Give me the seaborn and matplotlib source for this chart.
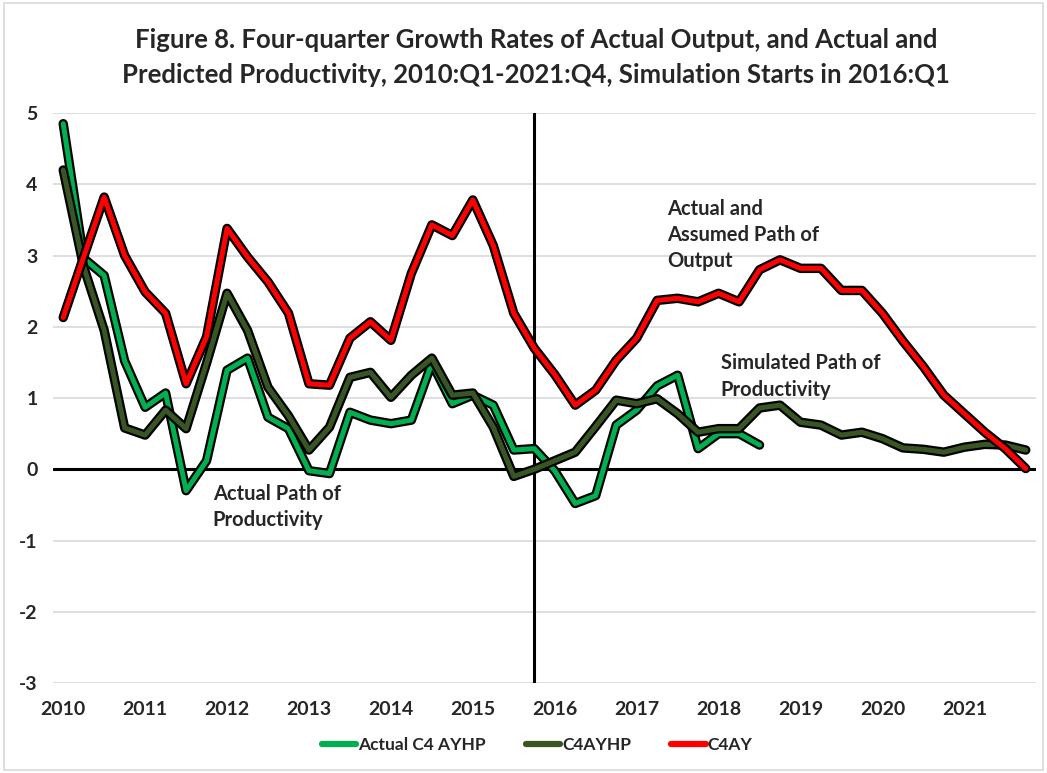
import numpy as np
import pandas as pd
import matplotlib
matplotlib.use("Agg")
import matplotlib.pyplot as plt
import matplotlib.patheffects as pe
from matplotlib.lines import Line2D
import seaborn as sns

# 四季度增长率, 2010:Q1 - 2021:Q4
years = list(range(2010, 2022))
actual_c4ayhp = [4.85, 2.96, 2.72, 1.52, 0.87, 1.07, -0.3, 0.12, 1.39, 1.56,
                 0.73, 0.57, -0.02, -0.06, 0.8, 0.69, 0.64, 0.69, 1.49, 0.92,
                 1.04, 0.9, 0.27, 0.29, -0.02, -0.48, -0.37, 0.62, 0.83, 1.17,
                 1.32, 0.29, 0.5, 0.5, 0.34]
c4ayhp = [4.2, 2.84, 1.95, 0.58, 0.48, 0.83, 0.57, 1.49, 2.47, 1.95,
          1.15, 0.75, 0.27, 0.59, 1.29, 1.36, 1.01, 1.32, 1.56, 1.04,
          1.07, 0.59, -0.1, 0.0, 0.12, 0.24, 0.6, 0.97, 0.92, 0.99,
          0.78, 0.52, 0.57, 0.57, 0.86, 0.9, 0.66, 0.62, 0.48, 0.52,
          0.43, 0.3, 0.28, 0.24, 0.31, 0.35, 0.34, 0.27]
c4ay = [2.13, 2.98, 3.82, 3.0, 2.49, 2.19, 1.2, 1.86, 3.38, 2.98,
        2.63, 2.19, 1.2, 1.18, 1.84, 2.07, 1.81, 2.75, 3.43, 3.28,
        3.78, 3.14, 2.19, 1.70, 1.33, 0.9, 1.11, 1.53, 1.84, 2.37,
        2.4, 2.35, 2.47, 2.35, 2.8, 2.94, 2.82, 2.82, 2.51, 2.51,
        2.19, 1.8, 1.44, 1.04, 0.78, 0.52, 0.29, 0.01]
sim_start = 23  # 竖线位置(季度序号)

n = len(c4ay)
q = np.arange(n)
green = actual_c4ayhp + [np.nan] * (n - len(actual_c4ayhp))

sns.set_style("white")
plt.rcParams['font.family'] = ['Lato', 'DejaVu Sans']
plt.rcParams['font.weight'] = 'bold'

fig = plt.figure(figsize=(10.47, 7.73), dpi=100)
ax = fig.add_axes([0.0506, 0.1164, 0.9389, 0.7374])

# 网格线
for v in range(-3, 6):
    if v != 0:
        ax.axhline(v, color='#D9D9D9', lw=1.2, zorder=0)
ax.axhline(0, color='black', lw=2.2, zorder=1)
ax.axvline(sim_start, color='black', lw=2.2, zorder=1)

outline = [pe.Stroke(linewidth=6.8, foreground='black'), pe.Normal()]
series = [(green, '#00B050', 'Actual C4 AYHP'),
          (c4ayhp, '#375623', 'C4AYHP'),
          (c4ay, '#FF0000', 'C4AY')]
for i, (vals, col, lab) in enumerate(series):
    sns.lineplot(x=q, y=vals, ax=ax, color=col, lw=3.6, zorder=3 + i,
                 path_effects=outline, legend=False)

ax.set_xlim(-0.5, n - 0.5)
ax.set_ylim(-3, 5)
ax.set_xticks(np.arange(0, n, 4))
ax.set_xticklabels([str(y) for y in years], fontsize=14, fontweight='bold')
ax.set_yticks(range(-3, 6))
ax.set_yticklabels([str(v) for v in range(-3, 6)], fontsize=14, fontweight='bold')
ax.tick_params(axis='x', length=0, pad=13)
ax.tick_params(axis='y', length=0, pad=11)
for s in ax.spines.values():
    s.set_visible(False)
ax.set_xlabel('')
ax.set_ylabel('')

fig.text(0.512, 0.948, 'Figure 8. Four-quarter Growth Rates of Actual Output, and Actual and',
         ha='center', va='center', fontsize=18.5, fontweight='bold')
fig.text(0.512, 0.903, 'Predicted Productivity, 2010:Q1-2021:Q4, Simulation Starts in 2016:Q1',
         ha='center', va='center', fontsize=18.5, fontweight='bold')

ann_kw = dict(fontsize=14.5, fontweight='bold', ha='left', va='top', linespacing=1.4)
ax.text(29.5, 3.8, 'Actual and\nAssumed Path of\nOutput', **ann_kw)
ax.text(32.1, 1.63, 'Simulated Path of\nProductivity', **ann_kw)
ax.text(7.3, -0.2, 'Actual Path of\nProductivity', **ann_kw)

handles = [Line2D([], [], color=c, lw=4.5) for _, c, _ in series]
fig.legend(handles, [l for _, _, l in series], loc='center', bbox_to_anchor=(0.513, 0.036),
           ncol=3, frameon=False, handlelength=2.0, handletextpad=0.1,
           columnspacing=2.3, prop={'weight': 'bold', 'size': 12.5})

fig.patches.append(plt.Rectangle((0.004, 0.004), 0.992, 0.992, transform=fig.transFigure,
                                 fill=False, edgecolor='#D9D9D9', lw=1.2))

plt.savefig('out.png', dpi=100)
